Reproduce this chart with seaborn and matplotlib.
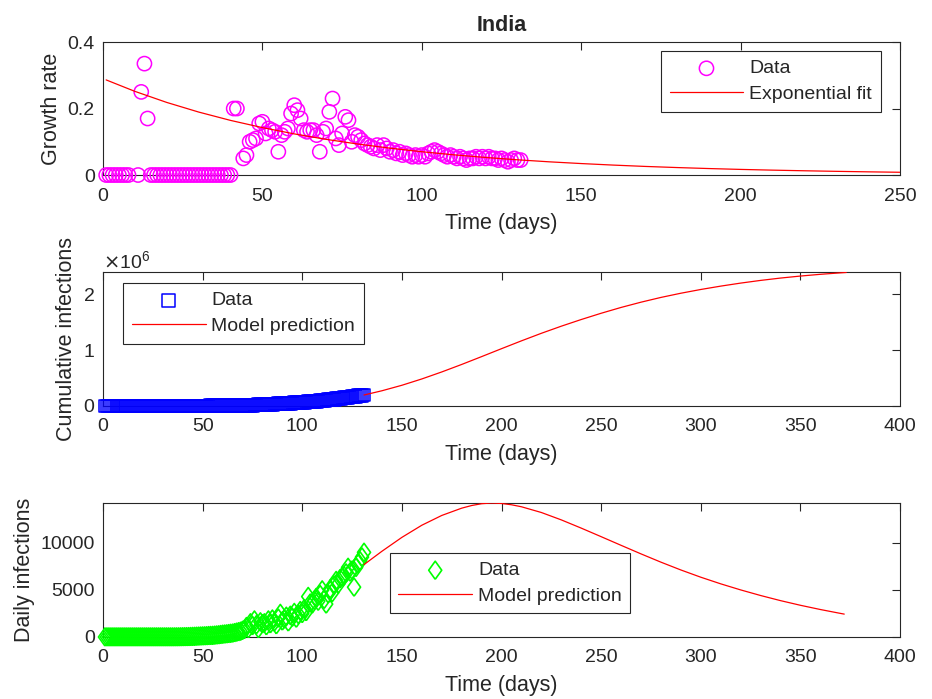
import numpy as np
import matplotlib
matplotlib.use('Agg')
import matplotlib.pyplot as plt
from matplotlib.ticker import FormatStrFormatter, ScalarFormatter
import seaborn as sns

nan = np.nan

# growth rate, days 1..131 (nan = no point)
growth_days = list(range(1, 132))
growth_rate = ([0] * 8 + [nan, nan, 0, 0.25, 0.335, 0.17] + [0] * 26 + [0.2, 0.2, nan] +
               [0.05, 0.06, 0.10, 0.105, 0.11, 0.155, 0.16, 0.125, 0.14, 0.135,
                0.13, 0.07, 0.12, 0.13, 0.14, 0.185, 0.21, 0.195, 0.17, 0.135,
                0.13, 0.135, 0.135, 0.12, 0.07, 0.13, 0.14, 0.19, 0.23, 0.11,
                0.09, 0.125, 0.175, 0.165, 0.10, 0.12, 0.115, 0.105, 0.095, 0.09,
                0.085, 0.08, 0.09, 0.075, 0.09, 0.08, 0.07, 0.075, 0.065, 0.07,
                0.06, 0.065, 0.06, 0.055, 0.06, 0.055, 0.06, 0.055, 0.065, 0.07,
                0.075, 0.07, 0.065, 0.06, 0.055, 0.06, 0.055, 0.05, 0.055, 0.05,
                0.045, 0.05, 0.05, 0.055, 0.05, 0.055, 0.05, 0.055, 0.05, 0.05,
                0.045, 0.05, 0.045, 0.04, 0.045, 0.05, 0.045, 0.045])

# exponential fit
fit_days = [1, 10, 20, 30, 40, 50, 60, 70, 80, 90, 100, 110, 120, 130,
            140, 150, 160, 170, 180, 190, 200, 210, 220, 230, 240, 250]
fit_rate = [0.286, 0.2516, 0.2183, 0.1894, 0.1643, 0.1426, 0.1237, 0.1073, 0.0931,
            0.0808, 0.0701, 0.0608, 0.0528, 0.0458, 0.0397, 0.0345, 0.0299, 0.0259,
            0.0225, 0.0195, 0.0169, 0.0147, 0.0128, 0.0111, 0.0096, 0.0083]

# cumulative infections (thousands), days 1..131
cum_days = list(range(1, 132))
cum_cases_k = ([0] * 40 +
               [0.1, 0.1, 0.2, 0.2, 0.3, 0.4, 0.5, 0.6, 0.7, 0.8,
                0.9, 1.0, 1.2, 1.4, 1.6, 1.8, 2.0, 2.3, 2.6, 3.0,
                3.5, 4, 4.5, 5, 5.5, 6, 6.5, 7, 8, 9,
                10, 11, 12, 13.5, 15, 16.5, 18, 19.5, 21, 23,
                25, 27, 29, 31, 33, 35, 37, 39, 41, 43,
                45, 47, 49, 51, 53, 55.5, 58, 60.5, 63, 65.5,
                68, 71, 74, 77, 80, 83.5, 87, 90.5, 94, 98,
                102, 106, 110, 114, 118, 122.5, 127, 131.5, 136, 141,
                146, 151, 156, 161, 166, 171, 176, 181, 186, 191, 196])

cum_model_days = [131, 140, 150, 160, 170, 180, 190, 200, 210, 220, 230, 240, 250,
                  260, 270, 280, 290, 300, 310, 320, 330, 340, 350, 360, 370, 373]
cum_model_k = [196, 272, 370, 483, 608, 742, 882, 1024, 1164, 1299, 1426, 1545, 1657,
               1761, 1855, 1940, 2015, 2082, 2142, 2196, 2244, 2286, 2322, 2353, 2379, 2386]

# daily infections, days 1..131
daily_days = list(range(1, 132))
daily_cases = ([0] * 30 +
               [0, 0, 0, 0, 0, 2, 3, 5, 10, 15,
                20, 25, 30, 40, 50, 60, 70, 80, 90, 100,
                110, 120, 140, 150, 160, 180, 200, 220, 250, 280,
                300, 320, 350, 380, 400, 450, 500, 550, 600, 700,
                800, 1100, 900, 1500, 1200, 1800, 1300, 900, 1600, 1400,
                1500, 1200, 1800, 1400, 1900, 1600, 1300, 2000, 2500, 1700,
                1900, 2200, 1600, 2300, 2100, 2600, 2000, 2400, 2800, 2500,
                3000, 2700, 4300, 3600, 3500, 3900, 4200, 3800, 4500, 5000,
                4000, 3500, 4600, 5100, 4700, 5500, 6000, 5600, 6200, 6400,
                6500, 6800, 7400, 6900, 7100, 5300, 7400, 7800, 8100, 8500, 9000])

daily_model_days = [131, 140, 150, 160, 170, 180, 185, 190, 195, 200, 205, 210, 220,
                    230, 240, 250, 260, 270, 280, 290, 300, 310, 320, 330, 340, 350,
                    360, 370, 372]
daily_model = [7700, 9118, 10593, 11883, 12923, 13698, 13979, 14173, 14248, 14198, 14060,
               13848, 13238, 12453, 11578, 10668, 9748, 8838, 7958, 7128, 6358, 5653,
               5008, 4413, 3868, 3373, 2923, 2513, 2435]

sns.set_theme(style='white')
plt.rcParams['font.family'] = ['Liberation Sans', 'DejaVu Sans']

dark = '#262626'
fig = plt.figure(figsize=(9.32, 6.99), dpi=100)
ax1 = fig.add_axes([0.1105, 0.7496, 0.8552, 0.1903])
ax2 = fig.add_axes([0.1105, 0.4192, 0.8552, 0.1910])
ax3 = fig.add_axes([0.1105, 0.0887, 0.8552, 0.1917])

diamond = [(0, -1), (0.72, 0), (0, 1), (-0.72, 0), (0, -1)]

# growth rate
sns.scatterplot(x=growth_days, y=growth_rate, ax=ax1, marker='o', s=105, color='#FF00FF',
                facecolor='none', edgecolor='#FF00FF', linewidth=1.1, clip_on=False,
                label='Data', legend=False, zorder=3)
sns.lineplot(x=fit_days, y=fit_rate, ax=ax1, color='#FF0000', linewidth=0.9,
             label='Exponential fit', legend=False, zorder=4)
ax1.set_xlim(0, 250)
ax1.set_ylim(0, 0.4)
ax1.set_xticks([0, 50, 100, 150, 200, 250])
ax1.set_yticks([0, 0.2, 0.4])
ax1.yaxis.set_major_formatter(FormatStrFormatter('%g'))
ax1.set_ylabel('Growth rate')
ax1.set_title('India', fontweight='bold', fontsize=15.5, pad=8)

# cumulative
sns.scatterplot(x=cum_days, y=np.array(cum_cases_k) * 1e3, ax=ax2, marker='s', s=85,
                color='#0000FF', facecolor='none', edgecolor='#0000FF', linewidth=1.1,
                clip_on=False, label='Data', legend=False, zorder=3)
sns.lineplot(x=cum_model_days, y=np.array(cum_model_k) * 1e3, ax=ax2, color='#FF0000',
             linewidth=0.9, label='Model prediction', legend=False, zorder=4)
ax2.set_xlim(0, 400)
ax2.set_ylim(0, max(cum_model_k) * 1e3)
ax2.set_yticks([0, 1e6, 2e6])
fmt = ScalarFormatter(useMathText=True)
fmt.set_powerlimits((0, 0))
ax2.yaxis.set_major_formatter(fmt)
ax2.set_ylabel('Cumulative infections')

# daily
sns.scatterplot(x=daily_days, y=daily_cases, ax=ax3, marker=diamond, s=170,
                color='#00FF00', facecolor='none', edgecolor='#00FF00', linewidth=1.2,
                clip_on=False, label='Data', legend=False, zorder=3)
sns.lineplot(x=daily_model_days, y=daily_model, ax=ax3, color='#FF0000', linewidth=0.9,
             label='Model prediction', legend=False, zorder=4)
ax3.set_xlim(0, 400)
ax3.set_ylim(0, max(daily_model))
ax3.set_yticks([0, 5000, 10000])
ax3.set_ylabel('Daily infections')

for ax in (ax1, ax2, ax3):
    ax.set_xlabel('Time (days)', fontsize=15.5, color=dark, labelpad=6)
    ax.yaxis.label.set_size(15.5)
    ax.yaxis.label.set_color(dark)
    ax.tick_params(direction='in', top=True, right=True, length=6, width=0.8,
                   labelsize=14, colors=dark)
    ax.tick_params(axis='x', pad=9)
    ax.tick_params(axis='y', pad=6)
    for sp in ax.spines.values():
        sp.set_visible(True)
        sp.set_color(dark)
        sp.set_linewidth(0.8)
ax2.yaxis.get_offset_text().set_fontsize(14)
ax2.yaxis.get_offset_text().set_color(dark)

leg_kw = dict(fontsize=14, frameon=True, fancybox=False, edgecolor=dark, framealpha=1,
              handlelength=3.8, handletextpad=0.3, borderpad=0.45, labelspacing=0.4,
              scatterpoints=1, borderaxespad=0)
for ax, loc, anchor in ((ax1, 'upper right', (0.9758, 0.932)),
                        (ax2, 'upper left', (0.0251, 0.921)),
                        (ax3, 'upper left', (0.3595, 0.627))):
    leg = ax.legend(loc=loc, bbox_to_anchor=anchor, **leg_kw)
    leg.get_frame().set_linewidth(0.8)

fig.savefig('out.png', dpi=100)
